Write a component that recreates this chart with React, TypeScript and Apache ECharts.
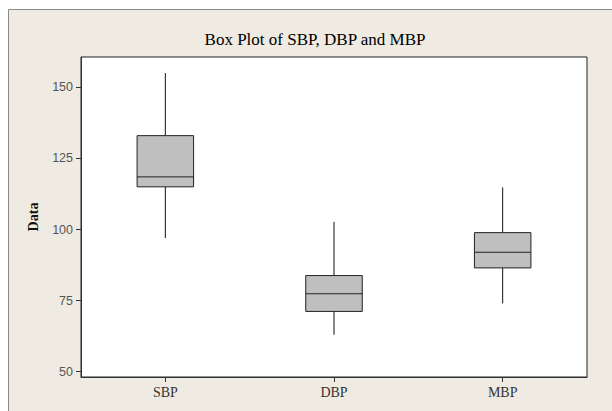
import React, { useEffect, useRef } from "react";
import * as echarts from "echarts";

const categories = ["SBP", "DBP", "MBP"];
// [min, Q1, median, Q3, max]
const sbpStats = [97, 115, 118.5, 133, 155];
const dbpStats = [63, 71.2, 77.4, 83.8, 102.7];
const mbpStats = [74, 86.5, 92, 98.9, 114.8];
const yTicks = [50, 75, 100, 125, 150];

export default function App() {
  const ref = useRef<HTMLDivElement>(null);
  useEffect(() => {
    if (!ref.current) return;
    const chart = echarts.init(ref.current, null, { renderer: "svg" });
    const stats = [sbpStats, dbpStats, mbpStats];
    const data = stats.map((s, i) => [i, ...s]);
    chart.setOption({
      animation: false,
      backgroundColor: "#ffffff",
      graphic: [
        {
          type: "rect",
          z: -10,
          silent: true,
          shape: { x: 8.5, y: 9.5, width: 620, height: 420 },
          style: { fill: "#efebe2", stroke: "#8a8a8a", lineWidth: 1 },
        },
      ],
      title: {
        text: "Box Plot of SBP, DBP and MBP",
        left: 310,
        top: 26,
        textAlign: "center",
        textStyle: {
          fontFamily: "Liberation Serif",
          fontSize: 17,
          fontWeight: "normal",
          color: "#000",
        },
      },
      grid: {
        left: 81,
        top: 57,
        width: 506,
        height: 320,
        show: true,
        backgroundColor: "#ffffff",
        borderColor: "#222",
        borderWidth: 1,
      },
      xAxis: {
        type: "category",
        data: categories,
        boundaryGap: true,
        axisLine: { show: true, lineStyle: { color: "#333", width: 1 } },
        axisTick: { show: true, alignWithLabel: true, length: 5, lineStyle: { color: "#333" } },
        axisLabel: {
          fontFamily: "Liberation Serif",
          fontSize: 14,
          color: "#333",
          margin: 8,
        },
        splitLine: { show: false },
      },
      yAxis: {
        type: "value",
        min: 48.14,
        max: 160.65,
        name: "Data",
        nameLocation: "middle",
        nameGap: 41,
        nameTextStyle: {
          fontFamily: "Liberation Serif",
          fontSize: 14,
          fontWeight: "bold",
          color: "#111",
        },
        axisLine: { show: true, lineStyle: { color: "#333", width: 1 } },
        axisTick: { show: true, length: 5, customValues: yTicks, lineStyle: { color: "#333" } },
        axisLabel: {
          customValues: yTicks,
          fontFamily: "Liberation Sans",
          fontSize: 12.5,
          color: "#555",
          margin: 8,
        },
        splitLine: { show: false },
      },
      series: [
        {
          type: "custom",
          data,
          encode: { x: 0, y: [1, 2, 3, 4, 5] },
          renderItem: (params: any, api: any) => {
            const x = api.value(0);
            const pMin = api.coord([x, api.value(1)]);
            const pQ1 = api.coord([x, api.value(2)]);
            const pMed = api.coord([x, api.value(3)]);
            const pQ3 = api.coord([x, api.value(4)]);
            const pMax = api.coord([x, api.value(5)]);
            const bw = api.size([1, 0])[0] * 0.335;
            const cx = pMed[0];
            const lineStyle = { stroke: "#111", lineWidth: 1 };
            return {
              type: "group",
              children: [
                {
                  type: "line",
                  shape: { x1: cx, y1: pMax[1], x2: cx, y2: pQ3[1] },
                  style: lineStyle,
                },
                {
                  type: "line",
                  shape: { x1: cx, y1: pQ1[1], x2: cx, y2: pMin[1] },
                  style: lineStyle,
                },
                {
                  type: "rect",
                  shape: { x: cx - bw / 2, y: pQ3[1], width: bw, height: pQ1[1] - pQ3[1] },
                  style: { fill: "#bfbfbf", stroke: "#222", lineWidth: 1 },
                },
                {
                  type: "line",
                  shape: { x1: cx - bw / 2, y1: pMed[1], x2: cx + bw / 2, y2: pMed[1] },
                  style: { stroke: "#222", lineWidth: 1 },
                },
              ],
            };
          },
        },
      ],
    });
    return () => chart.dispose();
  }, []);
  return (
    <div
      ref={ref}
      style={{ position: "fixed", left: 0, top: 0, width: 612, height: 411 }}
    />
  );
}
